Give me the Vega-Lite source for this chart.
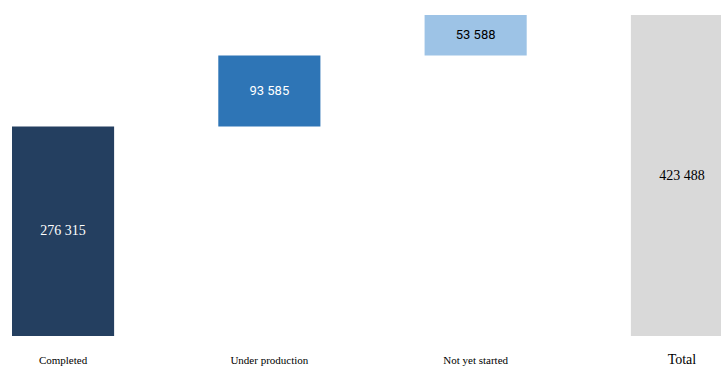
{
  "$schema": "https://vega.github.io/schema/vega-lite/v6.json",
  "width": 721,
  "height": 336,
  "padding": {"left": 0, "top": 0, "right": 0, "bottom": 31},
  "autosize": {"type": "none"},
  "background": "white",
  "config": {
    "view": {"stroke": null},
    "locale": {"number": {"decimal": ".", "thousands": " ", "grouping": [3], "currency": ["", ""]}}
  },
  "data": {
    "values": [
      {"category": "Completed", "start": 0, "end": 276315, "value": 276315},
      {"category": "Under production", "start": 276315, "end": 369900, "value": 93585},
      {"category": "Not yet started", "start": 369900, "end": 423488, "value": 53588},
      {"category": "Total", "start": 0, "end": 423488, "value": 423488}
    ]
  },
  "transform": [{"calculate": "(datum.start + datum.end) / 2", "as": "mid"}],
  "encoding": {
    "x": {
      "field": "category",
      "type": "nominal",
      "sort": null,
      "scale": {"range": [12, 733], "paddingInner": 0.505, "paddingOuter": 0},
      "axis": {
        "title": null,
        "domain": false,
        "ticks": false,
        "labelAngle": 0,
        "labelFont": "Liberation Serif",
        "labelFontSize": {"expr": "datum.value == 'Total' ? 14 : 11"},
        "labelColor": "black",
        "labelBaseline": "alphabetic",
        "labelPadding": 27
      }
    }
  },
  "layer": [
    {
      "mark": {"type": "bar", "clip": true},
      "encoding": {
        "y": {"field": "start", "type": "quantitative", "scale": {"domain": [0, 443278], "nice": false}, "axis": null},
        "y2": {"field": "end"},
        "color": {
          "field": "category",
          "type": "nominal",
          "scale": {
            "domain": ["Completed", "Under production", "Not yet started", "Total"],
            "range": ["#243f60", "#2e75b6", "#9dc3e6", "#d9d9d9"]
          },
          "legend": null
        }
      }
    },
    {
      "transform": [{"filter": "datum.category == 'Completed' || datum.category == 'Total'"}],
      "mark": {"type": "text", "font": "Liberation Serif", "fontSize": 14, "baseline": "middle"},
      "encoding": {
        "y": {"field": "mid", "type": "quantitative"},
        "text": {"field": "value", "type": "quantitative", "format": ",d"},
        "color": {"condition": {"test": "datum.category == 'Completed'", "value": "white"}, "value": "black"}
      }
    },
    {
      "transform": [{"filter": "datum.category == 'Under production' || datum.category == 'Not yet started'"}],
      "mark": {"type": "text", "font": "Roboto", "fontSize": 13, "baseline": "middle"},
      "encoding": {
        "y": {"field": "mid", "type": "quantitative"},
        "text": {"field": "value", "type": "quantitative", "format": ",d"},
        "color": {"condition": {"test": "datum.category == 'Under production'", "value": "white"}, "value": "black"}
      }
    }
  ]
}
